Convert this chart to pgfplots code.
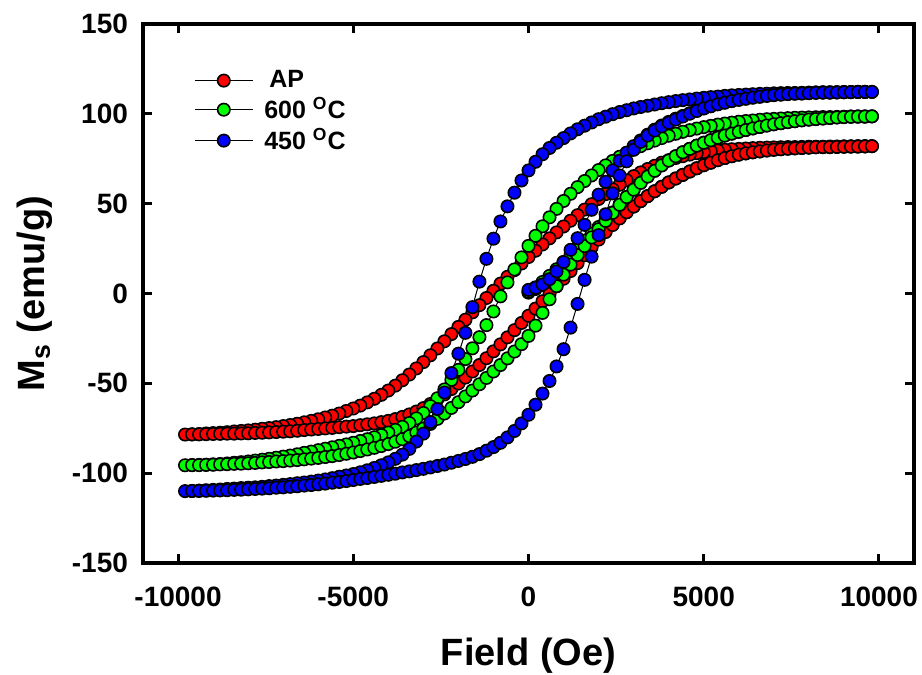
\documentclass[border=0pt]{standalone}
\usepackage{fontspec}
\setmainfont{Liberation Sans}
\usepackage{pgfplots}
\pgfplotsset{compat=1.18}
\definecolor{mred}{RGB}{255,0,0}
\definecolor{mgreen}{RGB}{0,255,0}
\definecolor{mblue}{RGB}{0,0,255}
\begin{document}
\begin{tikzpicture}[x=1pt,y=1pt]
\path[use as bounding box] (0,0) rectangle (461,337.5);
\begin{axis}[
  at={(71.5pt,56pt)}, anchor=south west,
  scale only axis, width=385.5pt, height=269.5pt,
  xmin=-11000, xmax=11000, ymin=-150, ymax=150,
  xtick={-10000,-5000,0,5000,10000},
  xticklabels={-10000,-5000,0,5000,10000},
  ytick={-150,-100,-50,0,50,100,150},
  yticklabels={-150,-100,-50,0,50,100,150},
  scaled ticks=false,
  tick align=inside,
  major tick length=4.5pt,
  every tick/.style={black, line width=1.5pt},
  axis line style={line width=2pt},
  ticklabel style={font=\fontsize{14}{14}\selectfont\bfseries},
  xticklabel style={yshift=-8.5pt},
  yticklabel style={xshift=-4pt},
  xlabel={Field (Oe)}, ylabel={M\textsubscript{s} (emu/g)},
  label style={font=\fontsize{19}{19}\selectfont\bfseries},
  xlabel style={at={(axis description cs:0.5,-0.172)}, anchor=center},
  ylabel style={at={(axis description cs:-0.14,0.5)}, anchor=center},
  legend style={draw=none, fill=none, inner sep=0pt, at={(axis description cs:0.066,0.92)}, anchor=north west, font=\fontsize{12.5}{14}\selectfont\bfseries, row sep=0.5pt, column sep=4pt, nodes={inner sep=1.5pt}},
  legend cell align=left,
  legend image code/.code={\draw[mark repeat=2, mark phase=2, #1] plot coordinates {(0pt,0pt) (14.5pt,0pt) (29pt,0pt)};},
]
\addplot[black, line width=0.5pt, mark=*, mark size=3.1pt, mark options={draw=black, fill=mred, line width=0.8pt}] coordinates {
(0,0.5) (200,2.5) (400,4.8) (600,7.4) (800,10.3) (1000,13.5) (1200,16.9) (1400,20.5) (1600,24.1) (1800,27.8) (2000,31.5) (2200,35.1) (2400,38.6) (2600,42) (2800,45.2) (3000,48.4) (3200,51.4) (3400,54.2) (3600,56.9) (3800,59.4) (4000,61.8) (4200,64) (4400,66) (4600,67.9) (4800,69.7) (5000,71.4) (5200,72.8) (5400,74.2) (5600,75.4) (5800,76.4) (6000,77.3) (6200,78) (6400,78.6) (6600,79.1) (6800,79.6) (7000,80) (7200,80.3) (7400,80.6) (7600,80.8) (7800,81) (8000,81.2) (8200,81.4) (8400,81.5) (8600,81.5) (8800,81.6) (9000,81.7) (9200,81.8) (9400,81.8) (9600,81.9) (9800,82)
(9600,82) (9400,82) (9200,81.9) (9000,81.9) (8800,81.8) (8600,81.8) (8400,81.7) (8200,81.7) (8000,81.7) (7800,81.6) (7600,81.5) (7400,81.5) (7200,81.4) (7000,81.3) (6800,81.2) (6600,81.1) (6400,80.9) (6200,80.7) (6000,80.5) (5800,80.3) (5600,80) (5400,79.6) (5200,79.2) (5000,78.7) (4800,78.1) (4600,77.3) (4400,76.4) (4200,75.4) (4000,74.2) (3800,72.8) (3600,71.1) (3400,69.3) (3200,67.4) (3000,65.3) (2800,63) (2600,60.5) (2400,58) (2200,55.3) (2000,52.6) (1800,49.7) (1600,46.7) (1400,43.6) (1200,40.5) (1000,37.3) (800,34) (600,30.7) (400,27.3) (200,23.8) (0,20.3) (-200,16.7) (-400,13) (-600,9.3) (-800,5.5) (-1000,1.5) (-1200,-2.5) (-1400,-6.5) (-1600,-10.5) (-1800,-14.6) (-2000,-18.6) (-2200,-22.6) (-2400,-26.6) (-2600,-30.6) (-2800,-34.4) (-3000,-38.2) (-3200,-41.7) (-3400,-45.1) (-3600,-48.3) (-3800,-51.3) (-4000,-54) (-4200,-56.4) (-4400,-58.6) (-4600,-60.6) (-4800,-62.4) (-5000,-64) (-5200,-65.4) (-5400,-66.8) (-5600,-68) (-5800,-69) (-6000,-70) (-6200,-70.9) (-6400,-71.7) (-6600,-72.5) (-6800,-73.2) (-7000,-73.8) (-7200,-74.4) (-7400,-74.9) (-7600,-75.3) (-7800,-75.8) (-8000,-76.2) (-8200,-76.5) (-8400,-76.8) (-8600,-77.2) (-8800,-77.5) (-9000,-77.7) (-9200,-77.9) (-9400,-78.2) (-9600,-78.4) (-9800,-78.5)
(-9600,-78.4) (-9400,-78.4) (-9200,-78.3) (-9000,-78.2) (-8800,-78.1) (-8600,-78) (-8400,-78) (-8200,-77.9) (-8000,-77.8) (-7800,-77.6) (-7600,-77.5) (-7400,-77.3) (-7200,-77.1) (-7000,-76.9) (-6800,-76.7) (-6600,-76.4) (-6400,-76) (-6200,-75.7) (-6000,-75.4) (-5800,-75.1) (-5600,-74.8) (-5400,-74.4) (-5200,-74.1) (-5000,-73.8) (-4800,-73.3) (-4600,-72.8) (-4400,-72.3) (-4200,-71.6) (-4000,-70.9) (-3800,-69.9) (-3600,-68.7) (-3400,-67.3) (-3200,-65.7) (-3000,-63.8) (-2800,-61.5) (-2600,-58.9) (-2400,-56.2) (-2200,-53.2) (-2000,-50.1) (-1800,-46.8) (-1600,-43.4) (-1400,-39.8) (-1200,-36) (-1000,-32.2) (-800,-28.3) (-600,-24.4) (-400,-20.4) (-200,-16.4) (0,-12.4) (200,-8.4) (400,-4.3) (600,-0.2) (800,4) (1000,8.2) (1200,12.5) (1400,16.9) (1600,21.3) (1800,25.7) (2000,30) (2200,34.2) (2400,38.1) (2600,41.8) (2800,45.2) (3000,48.4) (3200,51.4) (3400,54.2) (3600,56.9) (3800,59.4) (4000,61.8) (4200,64) (4400,66) (4600,67.9) (4800,69.7) (5000,71.4) (5200,72.8) (5400,74.2) (5600,75.4) (5800,76.4) (6000,77.3) (6200,78) (6400,78.6) (6600,79.1) (6800,79.6) (7000,80) (7200,80.3) (7400,80.6) (7600,80.8) (7800,81) (8000,81.2) (8200,81.4) (8400,81.5) (8600,81.5) (8800,81.6) (9000,81.7) (9200,81.8) (9400,81.8) (9600,81.9) (9800,82)
};
\addlegendentry{\hspace{2.5pt}AP}
\addplot[black, line width=0.5pt, mark=*, mark size=3.1pt, mark options={draw=black, fill=mgreen, line width=0.8pt}] coordinates {
(0,1) (200,3.4) (400,6.4) (600,9.8) (800,13.5) (1000,17.5) (1200,21.5) (1400,25.5) (1600,29.4) (1800,33.2) (2000,37) (2200,41) (2400,45.1) (2600,49.4) (2800,53.7) (3000,57.8) (3200,61.6) (3400,65.1) (3600,68.3) (3800,71.3) (4000,74) (4200,76.4) (4400,78.6) (4600,80.5) (4800,82.3) (5000,83.9) (5200,85.3) (5400,86.7) (5600,87.9) (5800,89) (6000,90) (6200,91) (6400,91.9) (6600,92.7) (6800,93.5) (7000,94.2) (7200,94.8) (7400,95.4) (7600,95.9) (7800,96.4) (8000,96.8) (8200,97.1) (8400,97.4) (8600,97.7) (8800,98) (9000,98.2) (9200,98.4) (9400,98.5) (9600,98.5) (9800,98.6)
(9600,98.5) (9400,98.5) (9200,98.5) (9000,98.4) (8800,98.3) (8600,98.2) (8400,98.2) (8200,98.1) (8000,98) (7800,97.9) (7600,97.8) (7400,97.6) (7200,97.4) (7000,97.2) (6800,97) (6600,96.7) (6400,96.3) (6200,96) (6000,95.6) (5800,95.1) (5600,94.6) (5400,94) (5200,93.3) (5000,92.6) (4800,91.8) (4600,90.9) (4400,90) (4200,88.9) (4000,87.8) (3800,86.5) (3600,85.1) (3400,83.6) (3200,82) (3000,80.2) (2800,78.2) (2600,76.1) (2400,73.8) (2200,71.3) (2000,68.7) (1800,65.7) (1600,62.6) (1400,59.2) (1200,55.5) (1000,51.5) (800,47.1) (600,42.4) (400,37.4) (200,32.1) (0,26.5) (-200,20.1) (-400,13.4) (-600,6.2) (-800,-1.6) (-1000,-10) (-1200,-17.6) (-1400,-24.3) (-1600,-30.5) (-1800,-36.5) (-2000,-42.5) (-2200,-48.1) (-2400,-53.4) (-2600,-58.3) (-2800,-62.7) (-3000,-66.5) (-3200,-69.5) (-3400,-72.1) (-3600,-74.2) (-3800,-75.9) (-4000,-77.4) (-4200,-78.8) (-4400,-80) (-4600,-81.1) (-4800,-82.1) (-5000,-83.1) (-5200,-84) (-5400,-84.8) (-5600,-85.6) (-5800,-86.4) (-6000,-87.2) (-6200,-88) (-6400,-88.7) (-6600,-89.5) (-6800,-90.2) (-7000,-90.8) (-7200,-91.4) (-7400,-92) (-7600,-92.5) (-7800,-93) (-8000,-93.5) (-8200,-93.9) (-8400,-94.2) (-8600,-94.6) (-8800,-94.9) (-9000,-95.1) (-9200,-95.3) (-9400,-95.4) (-9600,-95.5) (-9800,-95.6)
(-9600,-95.5) (-9400,-95.5) (-9200,-95.4) (-9000,-95.3) (-8800,-95.1) (-8600,-95) (-8400,-94.8) (-8200,-94.7) (-8000,-94.5) (-7800,-94.3) (-7600,-94) (-7400,-93.8) (-7200,-93.5) (-7000,-93.3) (-6800,-93) (-6600,-92.7) (-6400,-92.3) (-6200,-91.9) (-6000,-91.5) (-5800,-91) (-5600,-90.5) (-5400,-89.9) (-5200,-89.2) (-5000,-88.5) (-4800,-87.7) (-4600,-86.8) (-4400,-85.9) (-4200,-84.9) (-4000,-83.8) (-3800,-82.5) (-3600,-81.1) (-3400,-79.4) (-3200,-77.4) (-3000,-75.2) (-2800,-72.6) (-2600,-69.8) (-2400,-66.8) (-2200,-63.7) (-2000,-60.5) (-1800,-57.3) (-1600,-54) (-1400,-50.5) (-1200,-47) (-1000,-43.4) (-800,-39.8) (-600,-36.1) (-400,-32.3) (-200,-28.2) (0,-23.6) (200,-17.9) (400,-10.8) (600,-3.2) (800,4.1) (1000,10.5) (1200,16.1) (1400,21.4) (1600,26.4) (1800,31.2) (2000,35.8) (2200,40.4) (2400,44.9) (2600,49.4) (2800,53.7) (3000,57.8) (3200,61.6) (3400,65.1) (3600,68.3) (3800,71.3) (4000,74) (4200,76.4) (4400,78.6) (4600,80.5) (4800,82.3) (5000,83.9) (5200,85.3) (5400,86.7) (5600,87.9) (5800,89) (6000,90) (6200,91) (6400,91.9) (6600,92.7) (6800,93.5) (7000,94.2) (7200,94.8) (7400,95.4) (7600,95.9) (7800,96.4) (8000,96.8) (8200,97.1) (8400,97.4) (8600,97.7) (8800,98) (9000,98.2) (9200,98.4) (9400,98.5) (9600,98.5) (9800,98.6)
};
\addlegendentry{600 \textsuperscript{O}C}
\addplot[black, line width=0.5pt, mark=*, mark size=3.1pt, mark options={draw=black, fill=mblue, line width=0.8pt}] coordinates {
(0,2) (200,3.2) (400,5) (600,8) (800,12.3) (1000,17.5) (1200,24.3) (1400,30.8) (1600,38.2) (1800,46.6) (2000,55) (2200,62.2) (2400,68.5) (2600,73.9) (2800,78.4) (3000,82) (3200,85.2) (3400,88.4) (3600,91.2) (3800,93.5) (4000,95.5) (4200,97.3) (4400,98.8) (4600,100.3) (4800,101.7) (5000,103.1) (5200,104.3) (5400,105.4) (5600,106.3) (5800,107.2) (6000,107.9) (6200,108.5) (6400,109.1) (6600,109.6) (6800,110.1) (7000,110.5) (7200,110.8) (7400,111.1) (7600,111.3) (7800,111.4) (8000,111.6) (8200,111.8) (8400,111.9) (8600,111.9) (8800,112) (9000,112.1) (9200,112.1) (9400,112.2) (9600,112.2) (9800,112.2)
(9600,112.2) (9400,112.2) (9200,112.1) (9000,112.1) (8800,112) (8600,112) (8400,112) (8200,111.9) (8000,111.8) (7800,111.7) (7600,111.6) (7400,111.6) (7200,111.5) (7000,111.4) (6800,111.2) (6600,111.1) (6400,110.9) (6200,110.7) (6000,110.5) (5800,110.3) (5600,110) (5400,109.6) (5200,109.3) (5000,108.9) (4800,108.5) (4600,108) (4400,107.6) (4200,107.1) (4000,106.5) (3800,105.9) (3600,105.2) (3400,104.5) (3200,103.8) (3000,103) (2800,102) (2600,101) (2400,99.8) (2200,98.4) (2000,97) (1800,95.2) (1600,93.4) (1400,91.4) (1200,89.1) (1000,86.5) (800,83.9) (600,81) (400,77.5) (200,73.3) (0,68.5) (-200,62.9) (-400,56.1) (-600,48.5) (-800,40.1) (-1000,30.5) (-1200,19.3) (-1400,6.6) (-1600,-7.6) (-1800,-21.9) (-2000,-33.5) (-2200,-44.3) (-2400,-55.1) (-2600,-64.3) (-2800,-71.6) (-3000,-78) (-3200,-82.4) (-3400,-86.5) (-3600,-89.7) (-3800,-92) (-4000,-94) (-4200,-95.6) (-4400,-97.1) (-4600,-98.4) (-4800,-99.5) (-5000,-100.5) (-5200,-101.3) (-5400,-102) (-5600,-102.8) (-5800,-103.5) (-6000,-104.1) (-6200,-104.7) (-6400,-105.2) (-6600,-105.6) (-6800,-106.1) (-7000,-106.5) (-7200,-106.9) (-7400,-107.2) (-7600,-107.6) (-7800,-107.9) (-8000,-108.1) (-8200,-108.3) (-8400,-108.6) (-8600,-108.8) (-8800,-109.1) (-9000,-109.3) (-9200,-109.5) (-9400,-109.7) (-9600,-109.9) (-9800,-110)
(-9600,-109.9) (-9400,-109.9) (-9200,-109.8) (-9000,-109.7) (-8800,-109.6) (-8600,-109.5) (-8400,-109.3) (-8200,-109.2) (-8000,-109) (-7800,-108.8) (-7600,-108.6) (-7400,-108.4) (-7200,-108.1) (-7000,-107.9) (-6800,-107.6) (-6600,-107.3) (-6400,-106.9) (-6200,-106.6) (-6000,-106.2) (-5800,-105.8) (-5600,-105.3) (-5400,-104.9) (-5200,-104.4) (-5000,-103.8) (-4800,-103.2) (-4600,-102.7) (-4400,-102.1) (-4200,-101.5) (-4000,-100.9) (-3800,-100.3) (-3600,-99.6) (-3400,-99) (-3200,-98.3) (-3000,-97.6) (-2800,-96.8) (-2600,-96) (-2400,-95.2) (-2200,-94.2) (-2000,-93.2) (-1800,-92.1) (-1600,-90.9) (-1400,-89.4) (-1200,-87.5) (-1000,-85.5) (-800,-83.1) (-600,-80.1) (-400,-76.5) (-200,-72.3) (0,-67.5) (200,-61.9) (400,-55.7) (600,-48.7) (800,-40.6) (1000,-31) (1200,-19) (1400,-5.8) (1600,7.6) (1800,20.5) (2000,32.5) (2200,44.1) (2400,55.7) (2600,65.7) (2800,73.6) (3000,80) (3200,84.4) (3400,87.9) (3600,90.7) (3800,93) (4000,95) (4200,96.8) (4400,98.5) (4600,100.1) (4800,101.6) (5000,103) (5200,104.2) (5400,105.3) (5600,106.2) (5800,107.1) (6000,107.8) (6200,108.4) (6400,109) (6600,109.5) (6800,110) (7000,110.4) (7200,110.7) (7400,111) (7600,111.2) (7800,111.3) (8000,111.5) (8200,111.7) (8400,111.8) (8600,111.8) (8800,111.9) (9000,112) (9200,112.1) (9400,112.2) (9600,112.2) (9800,112.2)
};
\addlegendentry{450 \textsuperscript{O}C}
\end{axis}
\end{tikzpicture}
\end{document}
